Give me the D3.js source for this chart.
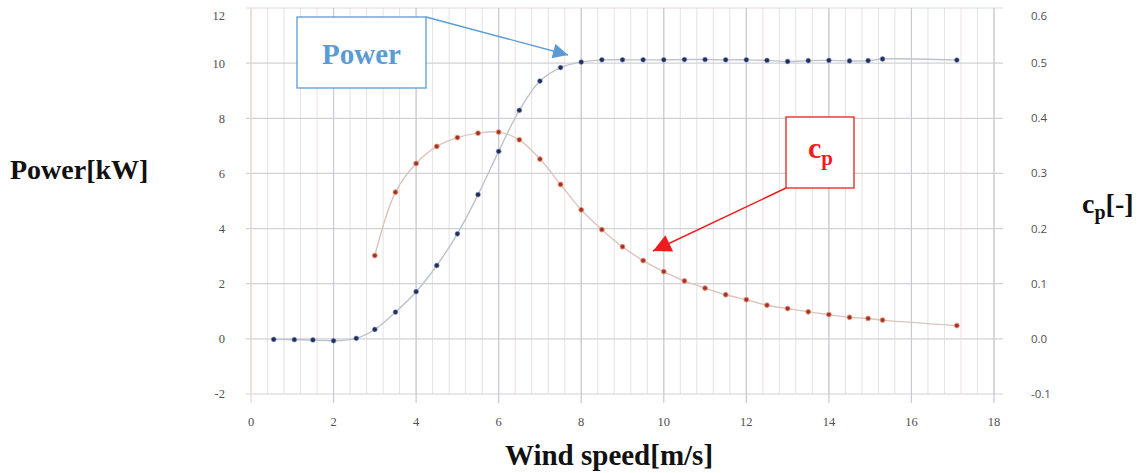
<!DOCTYPE html>
<html>
<head>
<meta charset="utf-8">
<script src="https://cdn.jsdelivr.net/npm/d3@7"></script>
<style>
  html, body { margin: 0; padding: 0; background: #fff; }
  svg { display: block; }
</style>
</head>
<body>
<svg id="chart" width="1143" height="473"></svg>
<script>
// ---- data ----
const powerWind = [0.55,1.05,1.5,2.0,2.55,3.0,3.5,4.0,4.5,5.0,5.5,6.0,6.5,7.0,7.5,8.0,8.5,9.0,9.5,10.0,10.5,11.0,11.5,12.0,12.5,13.0,13.5,14.0,14.5,14.95,15.3,17.1];
const powerKW   = [-0.02,-0.03,-0.04,-0.07,0.02,0.34,0.97,1.71,2.66,3.81,5.23,6.80,8.29,9.35,9.84,10.04,10.12,10.12,10.12,10.12,10.13,10.13,10.12,10.12,10.10,10.06,10.09,10.10,10.08,10.09,10.15,10.11];
const cpWind = [3.0,3.5,4.0,4.5,5.0,5.5,6.0,6.5,7.0,7.5,8.0,8.5,9.0,9.5,10.0,10.5,11.0,11.5,12.0,12.5,13.0,13.5,14.0,14.5,14.95,15.3,17.1];
const cpVals = [0.151,0.266,0.318,0.349,0.365,0.373,0.375,0.361,0.326,0.280,0.234,0.198,0.167,0.142,0.122,0.105,0.092,0.080,0.071,0.061,0.055,0.049,0.044,0.039,0.037,0.034,0.024];
const xTicks = [0,2,4,6,8,10,12,14,16,18];
const yTicksLeft = [-2,0,2,4,6,8,10,12];
const yTicksLeftLabels = ["-2","0","2","4","6","8","10","12"];
const yTicksRight = [-0.1,0.0,0.1,0.2,0.3,0.4,0.5,0.6];
const yTicksRightLabels = ["-0.1","0.0","0.1","0.2","0.3","0.4","0.5","0.6"];
const xMinorTicks = d3.range(0, 18.0001, 0.4);

// ---- layout ----
const svg = d3.select("#chart");
const L = 251, R = 994, T = 8, B = 394;
const x = d3.scaleLinear().domain([0, 18]).range([L, R]);
const y = d3.scaleLinear().domain([-2, 12]).range([B, T]);
const yR = d3.scaleLinear().domain([-0.1, 0.6]).range([B, T]);

const g = svg.append("g");

// minor vertical grid
g.selectAll("line.minor").data(xMinorTicks).enter().append("line")
  .attr("x1", d => x(d)).attr("x2", d => x(d))
  .attr("y1", T).attr("y2", B)
  .attr("stroke", (d, i) => i % 3 === 1 ? "#eee0dc" : "#e4e2e4")
  .attr("stroke-width", 1);

// horizontal grid (with outward ticks)
g.selectAll("line.h").data(yTicksLeft).enter().append("line")
  .attr("x1", L - 5).attr("x2", R + 9)
  .attr("y1", d => y(d)).attr("y2", d => y(d))
  .attr("stroke", d => d === 12 ? "#e6d8d4" : "#d2d2d6")
  .attr("stroke-width", 1.2);

// major vertical grid (with outward ticks)
g.selectAll("line.major").data(xTicks).enter().append("line")
  .attr("x1", d => x(d)).attr("x2", d => x(d))
  .attr("y1", T).attr("y2", B + 9)
  .attr("stroke", d => d === 0 ? "#ecd4cc" : "#c6cad4")
  .attr("stroke-width", 1.2);

// tick labels
const tickStyle = sel => sel.attr("font-family", "'Liberation Serif', serif")
  .attr("font-size", 12.5).attr("fill", "#505050");

g.selectAll("text.yl").data(yTicksLeft).enter().append("text")
  .attr("x", 225).attr("y", d => y(d) + (d === 12 ? 8 : 0)).attr("dy", "0.35em")
  .attr("text-anchor", "end").text((d, i) => yTicksLeftLabels[i]).call(tickStyle);

g.selectAll("text.yr").data(yTicksRight).enter().append("text")
  .attr("x", 1031).attr("y", d => yR(d) + (d === 0.6 ? 8 : 0)).attr("dy", "0.35em")
  .attr("text-anchor", "start").text((d, i) => yTicksRightLabels[i])
  .attr("font-family", "'Open Sans', sans-serif").attr("font-size", 11.5).attr("fill", "#505050");

g.selectAll("text.xl").data(xTicks).enter().append("text")
  .attr("x", d => x(d)).attr("y", 426)
  .attr("text-anchor", "middle").text(d => String(d)).call(tickStyle);

// series lines
const curve = d3.curveCatmullRom.alpha(0.5);
const powerData = powerWind.map((w, i) => [w, powerKW[i]]);
const cpData = cpWind.map((w, i) => [w, cpVals[i]]);

g.append("path").datum(powerData)
  .attr("d", d3.line().x(d => x(d[0])).y(d => y(d[1])).curve(curve))
  .attr("fill", "none").attr("stroke", "#bcc3ce").attr("stroke-width", 1.4);

g.append("path").datum(cpData)
  .attr("d", d3.line().x(d => x(d[0])).y(d => yR(d[1])).curve(curve))
  .attr("fill", "none").attr("stroke", "#dcc4be").attr("stroke-width", 1.4);

// points
g.selectAll("circle.p").data(powerData).enter().append("circle")
  .attr("cx", d => x(d[0])).attr("cy", d => y(d[1])).attr("r", 2.4)
  .attr("fill", "#1f2e5e").attr("stroke", "#7b8bb0").attr("stroke-width", 0.6);

g.selectAll("circle.c").data(cpData).enter().append("circle")
  .attr("cx", d => x(d[0])).attr("cy", d => yR(d[1])).attr("r", 2.4)
  .attr("fill", "#9b3525").attr("stroke", "#f08a70").attr("stroke-width", 0.9);

// axis titles
const titleStyle = sel => sel.attr("font-family", "'Liberation Serif', serif")
  .attr("font-weight", "bold").attr("fill", "#111");

svg.append("text").attr("x", 10).attr("y", 179).attr("font-size", 28)
  .text("Power[kW]").call(titleStyle);

svg.append("text").attr("x", 609).attr("y", 465).attr("font-size", 29)
  .attr("text-anchor", "middle").text("Wind speed[m/s]").call(titleStyle);

const cpt = svg.append("text").attr("x", 1082).attr("y", 213).attr("font-size", 28).call(titleStyle);
cpt.append("tspan").text("c");
cpt.append("tspan").attr("font-size", 20).attr("dy", 6).text("p");
cpt.append("tspan").attr("dy", -6).text("[-]");

// annotations
const defs = svg.append("defs");
defs.append("marker").attr("id", "mb").attr("viewBox", "0 0 10 10")
  .attr("refX", 10).attr("refY", 5).attr("markerWidth", 17).attr("markerHeight", 15)
  .attr("markerUnits", "userSpaceOnUse").attr("orient", "auto")
  .append("path").attr("d", "M0,0L10,5L0,10z").attr("fill", "#5b9bd5");
defs.append("marker").attr("id", "mr").attr("viewBox", "0 0 10 10")
  .attr("refX", 10).attr("refY", 5).attr("markerWidth", 20).attr("markerHeight", 18)
  .attr("markerUnits", "userSpaceOnUse").attr("orient", "auto")
  .append("path").attr("d", "M0,0L10,5L0,10z").attr("fill", "#ee1c1c");

// Power box
svg.append("rect").attr("x", 297).attr("y", 17).attr("width", 129).attr("height", 71)
  .attr("fill", "#fff").attr("stroke", "#5b9bd5").attr("stroke-width", 1.3);
svg.append("text").attr("x", 361.5).attr("y", 64).attr("text-anchor", "middle")
  .attr("font-family", "'Liberation Serif', serif").attr("font-weight", "bold")
  .attr("font-size", 29).attr("fill", "#5b9bd5").text("Power");
svg.append("line").attr("x1", 426).attr("y1", 17).attr("x2", 568).attr("y2", 55)
  .attr("stroke", "#5b9bd5").attr("stroke-width", 1.3).attr("marker-end", "url(#mb)");

// cp box
svg.append("rect").attr("x", 786).attr("y", 117).attr("width", 68).attr("height", 71)
  .attr("fill", "#fff").attr("stroke", "#ee1c1c").attr("stroke-width", 1.3);
const cpl = svg.append("text").attr("x", 808).attr("y", 158)
  .attr("font-family", "'Liberation Serif', serif").attr("font-weight", "bold")
  .attr("font-size", 30).attr("fill", "#ee1c1c");
cpl.append("tspan").text("c");
cpl.append("tspan").attr("font-size", 21).attr("dy", 7).text("p");
svg.append("line").attr("x1", 786).attr("y1", 188).attr("x2", 653).attr("y2", 251)
  .attr("stroke", "#ee1c1c").attr("stroke-width", 1.4).attr("marker-end", "url(#mr)");
</script>
</body>
</html>
